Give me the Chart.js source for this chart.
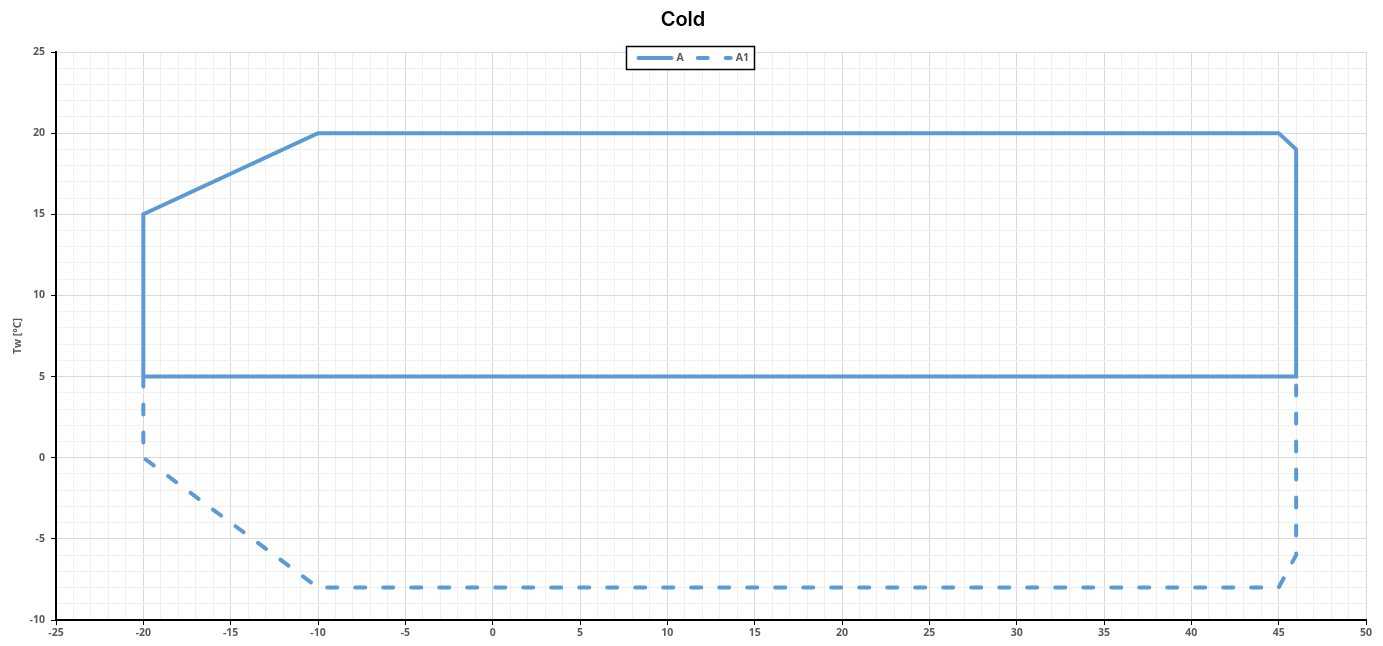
<!DOCTYPE html>
<html>
<head>
<meta charset="utf-8">
<title>Cold</title>
<script src="https://cdn.jsdelivr.net/npm/chart.js@4.4.1/dist/chart.umd.min.js"></script>
<style>
  html, body { margin: 0; padding: 0; background: #ffffff; }
  #wrap { width: 1383px; height: 646px; }
</style>
</head>
<body>
<div id="wrap"><canvas id="chart" width="1383" height="646"></canvas></div>
<script>
// Operating envelope outlines (x: ambient temperature, y: water temperature Tw)
const seriesNames = ['A', 'A1'];
const aX = [-20, -20, -10, 45, 46, 46, -20];
const aY = [5, 15, 20, 20, 19, 5, 5];
const a1X = [-20, -20, -10, 45, 46, 46];
const a1Y = [5, 0, -8, -8, -6, 5];

const xMin = -25, xMax = 50, yMin = -10, yMax = 25, majorStep = 5;
const yTitle = 'Tw [°C]';
const chartTitle = 'Cold';

const lineColor = '#5b9bd5';
const labelColor = '#595959';
const labelFamily = '"Open Sans", "Liberation Sans", sans-serif';
const tickFont = { family: labelFamily, size: 10.5, weight: 'bold' };

function toPoints(xs, ys) { return xs.map((x, i) => ({ x: x, y: ys[i] })); }

const isMajor = v => Math.abs(v % majorStep) < 1e-9;

// Legend framed box with line samples, drawn above the plot
const framedLegend = {
  id: 'framedLegend',
  afterDraw(chart) {
    const ctx = chart.ctx;
    const cx = chart.width / 2;
    const boxW = 128, boxH = 23;
    const left = Math.round(cx - boxW / 2) - 1.5, top = 46.5;
    ctx.save();
    ctx.fillStyle = '#ffffff';
    ctx.fillRect(left, top, boxW, boxH);
    ctx.strokeStyle = '#000000';
    ctx.lineWidth = 1.5;
    ctx.strokeRect(left, top, boxW, boxH);
    const midY = top + boxH / 2;
    let x = left + 12;
    ctx.font = 'bold 10.5px ' + labelFamily;
    ctx.textBaseline = 'middle';
    chart.data.datasets.forEach((ds) => {
      ctx.strokeStyle = ds.borderColor;
      ctx.lineWidth = ds.borderWidth;
      ctx.lineCap = 'round';
      ctx.setLineDash(ds.borderDash || []);
      ctx.beginPath();
      ctx.moveTo(x, midY);
      ctx.lineTo(x + 33, midY);
      ctx.stroke();
      ctx.setLineDash([]);
      ctx.fillStyle = labelColor;
      ctx.fillText(ds.label, x + 38, midY + 0.5);
      x += 38 + ctx.measureText(ds.label).width + 14;
    });
    ctx.restore();
  }
};

new Chart(document.getElementById('chart'), {
  type: 'scatter',
  data: {
    datasets: [
      {
        label: seriesNames[0],
        data: toPoints(aX, aY),
        showLine: true,
        borderColor: lineColor,
        backgroundColor: lineColor,
        borderWidth: 4,
        pointRadius: 0,
        pointHoverRadius: 0,
        fill: false,
        tension: 0
      },
      {
        label: seriesNames[1],
        data: toPoints(a1X, a1Y),
        showLine: true,
        borderColor: lineColor,
        backgroundColor: lineColor,
        borderWidth: 4,
        borderDash: [10, 18],
        borderCapStyle: 'round',
        pointRadius: 0,
        pointHoverRadius: 0,
        fill: false,
        tension: 0
      }
    ]
  },
  options: {
    responsive: false,
    animation: false,
    layout: { padding: { left: 0, right: 17, top: 0, bottom: 0 } },
    plugins: {
      legend: { display: false },
      tooltip: { enabled: false },
      title: {
        display: true,
        text: chartTitle,
        color: '#000000',
        font: { family: 'Inter', size: 20, weight: '600', lineHeight: 1.2 },
        padding: { top: 8, bottom: 20 }
      }
    },
    scales: {
      x: {
        type: 'linear',
        min: xMin,
        max: xMax,
        afterFit(scale) { scale.height = 26; },
        ticks: {
          stepSize: 1,
          autoSkip: false,
          maxRotation: 0,
          padding: 2,
          color: labelColor,
          font: tickFont,
          callback: v => isMajor(v) ? String(v) : ''
        },
        grid: {
          color: ctx => (ctx.tick && isMajor(ctx.tick.value)) ? '#d9d9d9' : '#f0f0f0',
          lineWidth: 1,
          tickLength: 5,
          tickColor: ctx => (ctx.tick && isMajor(ctx.tick.value)) ? '#000000' : 'rgba(0,0,0,0)'
        },
        border: { color: '#000000', width: 2 }
      },
      y: {
        type: 'linear',
        min: yMin,
        max: yMax,
        afterFit(scale) { scale.width = 56; },
        title: {
          display: true,
          text: yTitle,
          color: labelColor,
          font: tickFont,
          padding: { top: 12, bottom: 0 }
        },
        ticks: {
          stepSize: 1,
          autoSkip: false,
          padding: 6,
          color: labelColor,
          font: tickFont,
          callback: v => isMajor(v) ? String(v) : ''
        },
        grid: {
          color: ctx => (ctx.tick && isMajor(ctx.tick.value)) ? '#d9d9d9' : '#f0f0f0',
          lineWidth: 1,
          tickLength: 5,
          tickColor: ctx => (ctx.tick && isMajor(ctx.tick.value)) ? '#000000' : 'rgba(0,0,0,0)'
        },
        border: { color: '#000000', width: 2 }
      }
    }
  },
  plugins: [framedLegend]
});
</script>
</body>
</html>
